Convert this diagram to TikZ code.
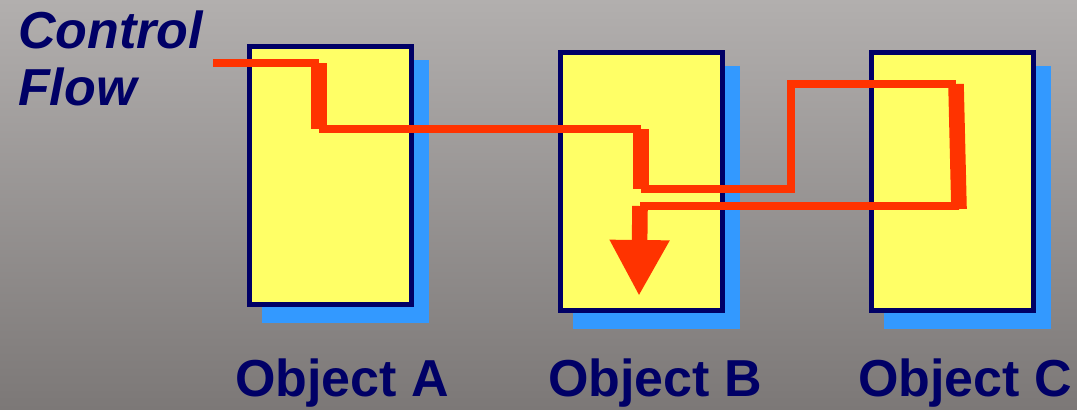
\documentclass[tikz,border=0pt]{standalone}
\usepackage{fontspec}
\setmainfont{Liberation Sans}
\usepackage{xcolor}
\definecolor{navy}{RGB}{0,0,102}
\definecolor{boxyellow}{RGB}{255,255,102}
\definecolor{shadowblue}{RGB}{51,153,255}
\definecolor{flowred}{RGB}{255,51,0}
\definecolor{bgtop}{RGB}{178,175,174}
\definecolor{bgbottom}{RGB}{124,120,119}
\usetikzlibrary{arrows.meta,positioning,shadows}

\begin{document}
\begin{tikzpicture}[x=0.5pt, y=-0.5pt,
    object/.style={draw=navy, line width=2.5pt, fill=boxyellow, minimum width=81pt, minimum height=129pt, inner sep=0pt,
        general shadow={fill=shadowblue, draw=shadowblue, line width=2.5pt, shadow xshift=7.5pt, shadow yshift=-8pt}},
    objlabel/.style={text=navy, font=\fontsize{26}{30}\selectfont\bfseries, anchor=base},
    thinflow/.style={draw=flowred, line width=3.7pt},
    thickflow/.style={draw=flowred, line width=7.8pt}]
    % Background
    \shade[top color=bgtop, bottom color=bgbottom] (0,0) rectangle (1077,409);
    \useasboundingbox (0,0) rectangle (1077,409);

    % Objects
    \node[object] (objA) at (330.5,175.5) {};
    \node[object] (objB) at (641,181) {};
    \node[object] (objC) at (952.5,181) {};

    \node[objlabel] (labA) at (342,396) {Object A};
    \node[objlabel] (labB) at (655,396) {Object B};
    \node[objlabel] (labC) at (965,396) {Object C};

    % Control flow label
    \node[text=navy, font=\fontsize{26}{28.5}\selectfont\bfseries\itshape, align=left, anchor=base west] (flowlab) at (11,105) {Control\\Flow};

    % Flow path points
    \coordinate (f0) at (213,63);
    \coordinate (f1) at (319,63);
    \coordinate (f2) at (319,129);
    \coordinate (f3) at (641,129);
    \coordinate (f4) at (641,189);
    \coordinate (f5) at (791,189);
    \coordinate (f6) at (791,84);
    \coordinate (f7) at (956,84);
    \coordinate (f8) at (959,209);
    \coordinate (f9) at (640,206);
    \coordinate (tip) at (639,296);

    % Thread of control
    \draw[thinflow] (f0) -- (f1);
    \draw[thickflow] (f1) -- (f2);
    \draw[thinflow] (f2) -- (f3);
    \draw[thickflow] (f3) -- (f4);
    \draw[thinflow] (f4) -- (f5) -- (f6) -- (f7);
    \draw[thickflow] (f7) -- (f8);
    \draw[thinflow] (f8 |- f9) -- (f9);
    \draw[thickflow, -{Triangle[width=28pt,length=28pt]}] (f9) -- (tip);
\end{tikzpicture}
\end{document}
